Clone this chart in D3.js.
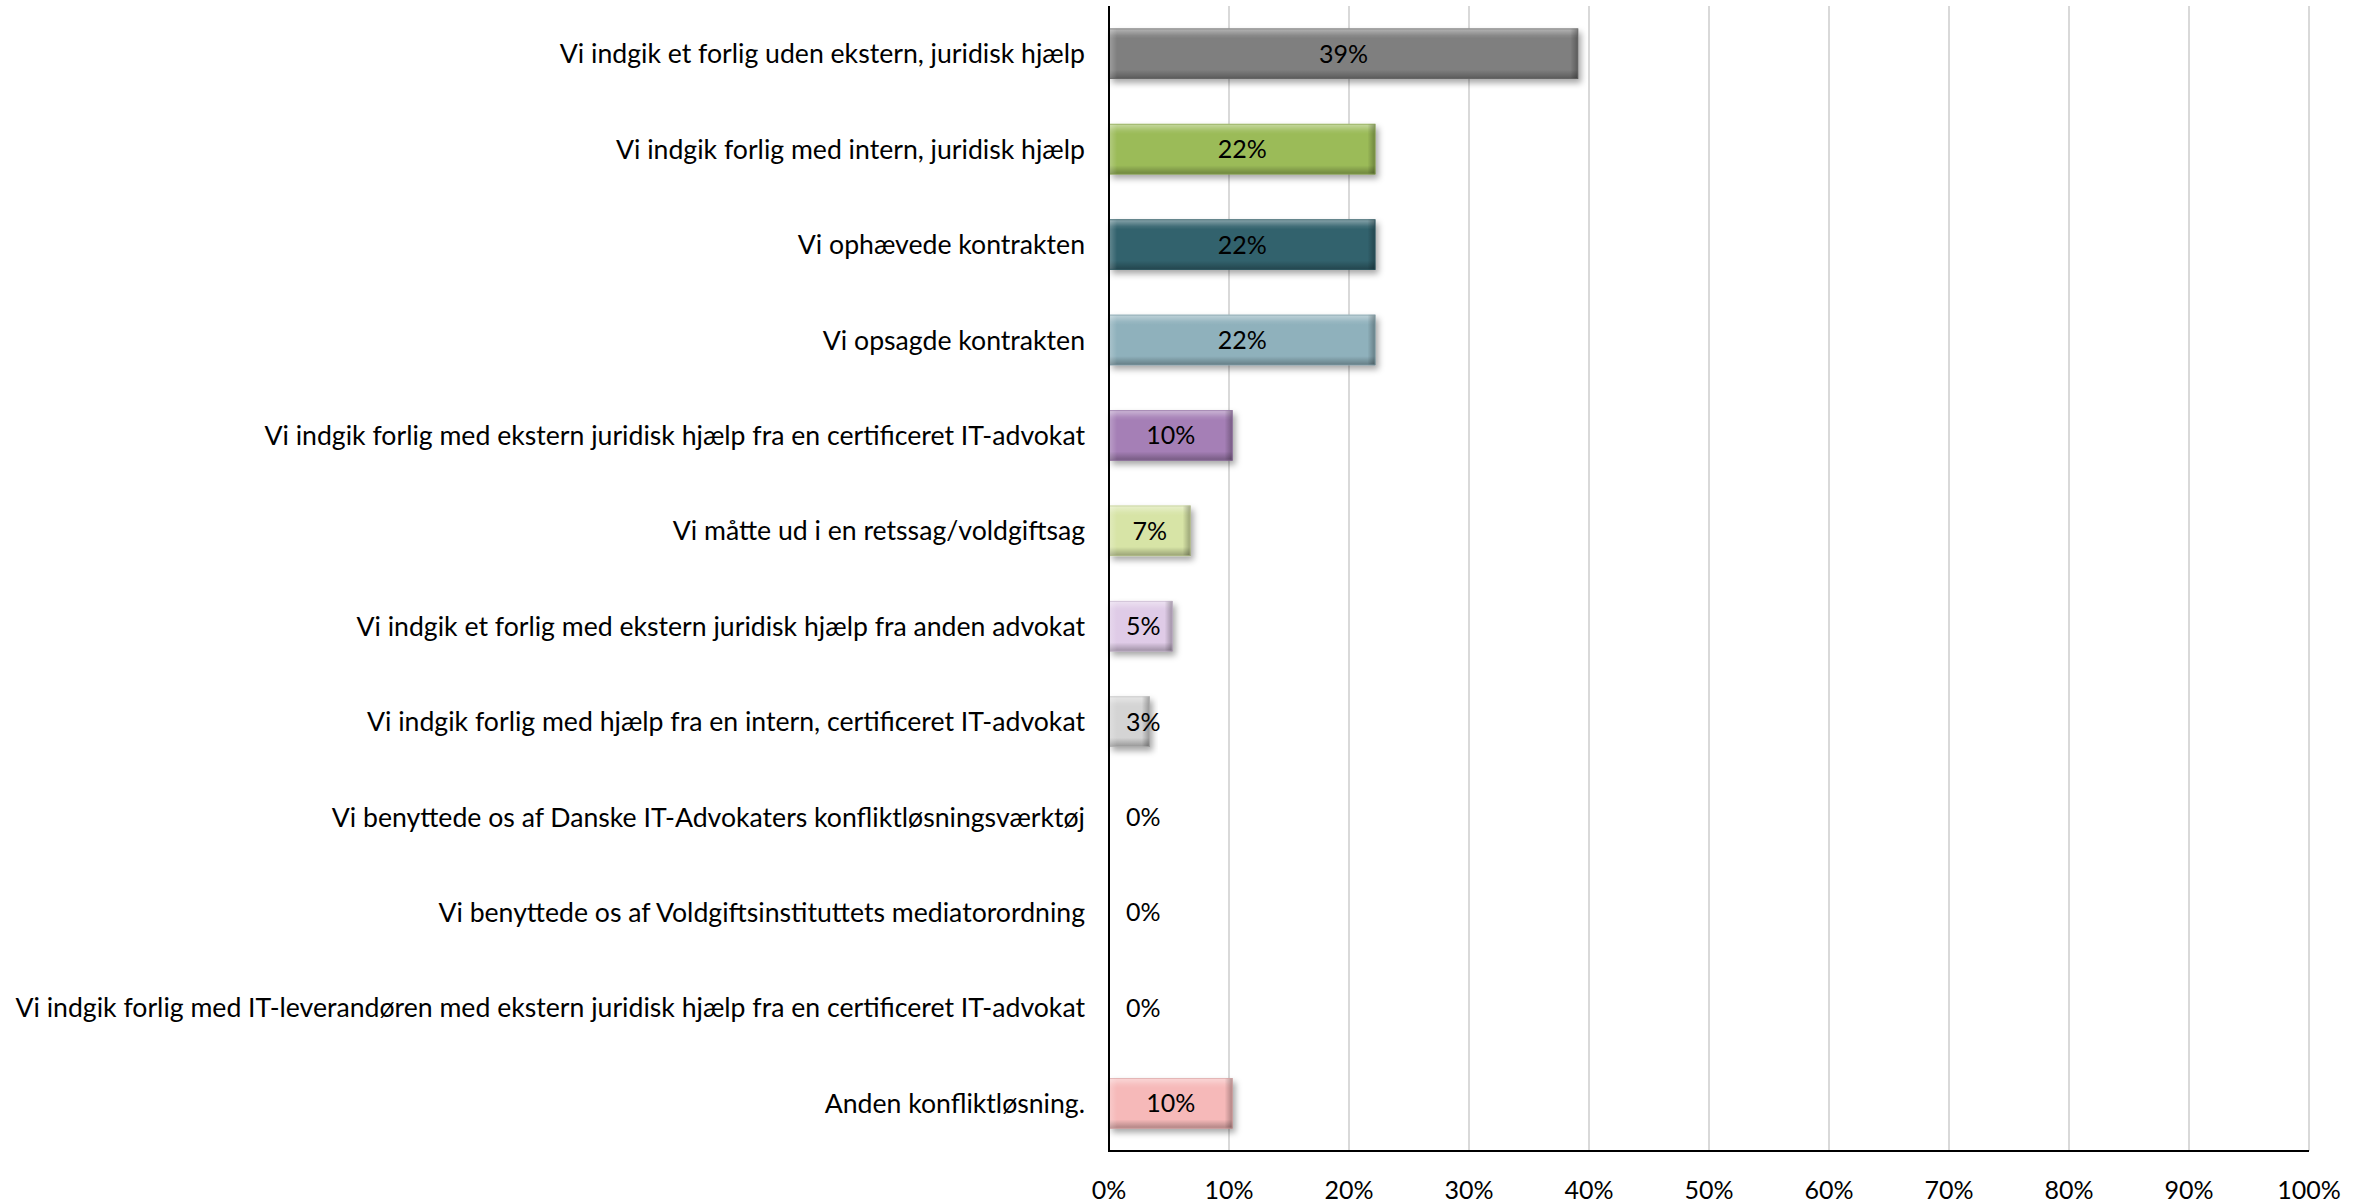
<!DOCTYPE html>
<html>
<head>
<meta charset="utf-8">
<script src="https://cdn.jsdelivr.net/npm/d3@7"></script>
<style>
  body { margin: 0; background: #fff; }
  text { font-family: Lato, "Open Sans", sans-serif; fill: #000; }
</style>
</head>
<body>
<div id="chart"></div>
<script>
// data
var categories = [
  "Vi indgik et forlig uden ekstern, juridisk hjælp",
  "Vi indgik forlig med intern, juridisk hjælp",
  "Vi ophævede kontrakten",
  "Vi opsagde kontrakten",
  "Vi indgik forlig med ekstern juridisk hjælp fra en certificeret IT-advokat",
  "Vi måtte ud i en retssag/voldgiftsag",
  "Vi indgik et forlig med ekstern juridisk hjælp fra anden advokat",
  "Vi indgik forlig med hjælp fra en intern, certificeret IT-advokat",
  "Vi benyttede os af Danske IT-Advokaters konfliktløsningsværktøj",
  "Vi benyttede os af Voldgiftsinstituttets mediatorordning",
  "Vi indgik forlig med IT-leverandøren med ekstern juridisk hjælp fra en certificeret IT-advokat",
  "Anden konfliktløsning."
];
var values = [0.391, 0.222, 0.222, 0.222, 0.103, 0.068, 0.053, 0.034, 0, 0, 0, 0.103];
var barColors = ["#7f7f7f", "#9bbb59", "#31626d", "#8fb1bc", "#a57fb6", "#d7e4a6",
                 "#dfcbe7", "#d4d4d4", "#d4d4d4", "#d4d4d4", "#d4d4d4", "#f6b9b9"];
var ticks = [0, 0.1, 0.2, 0.3, 0.4, 0.5, 0.6, 0.7, 0.8, 0.9, 1.0];

function main() {
  var W = 2369, H = 1204;
  var margin = {top: 6, right: 60, bottom: 53, left: 1109};
  var width = W - margin.left - margin.right,
      height = H - margin.top - margin.bottom;

  var svg = d3.select("#chart").append("svg")
      .attr("width", W).attr("height", H);

  var defs = svg.append("defs");
  var f = defs.append("filter").attr("id", "shadow")
      .attr("x", "-10%").attr("y", "-30%").attr("width", "130%").attr("height", "180%");
  f.append("feDropShadow").attr("dx", 3).attr("dy", 4).attr("stdDeviation", 3)
      .attr("flood-color", "#000").attr("flood-opacity", 0.35);

  // bevel overlays
  var gv = defs.append("linearGradient").attr("id", "bevelV")
      .attr("x1", 0).attr("y1", 0).attr("x2", 0).attr("y2", 1);
  gv.append("stop").attr("offset", "0%").attr("stop-color", "#fff").attr("stop-opacity", 0.45);
  gv.append("stop").attr("offset", "14%").attr("stop-color", "#fff").attr("stop-opacity", 0.08);
  gv.append("stop").attr("offset", "20%").attr("stop-color", "#fff").attr("stop-opacity", 0);
  gv.append("stop").attr("offset", "82%").attr("stop-color", "#000").attr("stop-opacity", 0);
  gv.append("stop").attr("offset", "88%").attr("stop-color", "#000").attr("stop-opacity", 0.1);
  gv.append("stop").attr("offset", "100%").attr("stop-color", "#000").attr("stop-opacity", 0.3);

  var gr = defs.append("linearGradient").attr("id", "bevelR")
      .attr("x1", 0).attr("y1", 0).attr("x2", 1).attr("y2", 0);
  gr.append("stop").attr("offset", "0%").attr("stop-color", "#000").attr("stop-opacity", 0);
  gr.append("stop").attr("offset", "100%").attr("stop-color", "#000").attr("stop-opacity", 0.3);

  var gl = defs.append("linearGradient").attr("id", "bevelL")
      .attr("x1", 0).attr("y1", 0).attr("x2", 1).attr("y2", 0);
  gl.append("stop").attr("offset", "0%").attr("stop-color", "#fff").attr("stop-opacity", 0.25);
  gl.append("stop").attr("offset", "100%").attr("stop-color", "#fff").attr("stop-opacity", 0);

  var g = svg.append("g")
      .attr("transform", "translate(" + margin.left + "," + margin.top + ")");

  var x = d3.scaleLinear().domain([0, 1]).range([0, width]);
  var y = d3.scaleBand().domain(categories).range([0, height])
      .paddingInner(0.47).paddingOuter(0.235);

  // gridlines
  g.selectAll(".grid")
    .data(ticks.slice(1))
    .enter().append("line")
      .attr("x1", function(d){ return x(d); })
      .attr("x2", function(d){ return x(d); })
      .attr("y1", 0).attr("y2", height)
      .attr("stroke", "#d9d9d9").attr("stroke-width", 2);

  // bars
  var bars = g.selectAll(".bar")
    .data(values)
    .enter().append("g")
      .attr("class", "bar")
      .attr("transform", function(d, i){ return "translate(0," + y(categories[i]) + ")"; });

  var bh = y.bandwidth();
  bars.each(function(d, k) {
    if (d <= 0) return;
    var sel = d3.select(this);
    var w = x(d);
    sel.append("rect")
      .attr("width", w).attr("height", bh)
      .attr("fill", barColors[k])
      .attr("filter", "url(#shadow)");
    sel.append("rect")
      .attr("width", w).attr("height", bh)
      .attr("fill", "url(#bevelV)");
    sel.append("rect")
      .attr("x", Math.max(0, w - 8)).attr("width", Math.min(8, w)).attr("height", bh)
      .attr("fill", "url(#bevelR)");
    sel.append("rect")
      .attr("width", Math.min(8, w)).attr("height", bh)
      .attr("fill", "url(#bevelL)");
    sel.append("rect")
      .attr("x", 0.5).attr("y", 0.5)
      .attr("width", Math.max(0, w - 1)).attr("height", bh - 1)
      .attr("fill", "none").attr("stroke", d3.color(barColors[k]).darker(0.4))
      .attr("stroke-opacity", 0.6).attr("stroke-width", 1);
  });

  // value labels
  bars.append("text")
      .attr("y", bh / 2)
      .attr("dy", "0.36em")
      .attr("font-size", "25px")
      .text(function(d){ return Math.round(d * 100) + "%"; })
      .attr("x", function(d) {
        var tw = this.getComputedTextLength();
        return Math.max(x(d) / 2 - tw / 2, 17);
      });

  // axes lines
  g.append("line")
      .attr("x1", 0).attr("x2", 0).attr("y1", 0).attr("y2", height + 1)
      .attr("stroke", "#000").attr("stroke-width", 2);
  g.append("line")
      .attr("x1", -1).attr("x2", x(1)).attr("y1", height).attr("y2", height)
      .attr("stroke", "#000").attr("stroke-width", 2);

  // category labels
  var cats = g.selectAll(".cat")
    .data(categories)
    .enter().append("text")
      .attr("x", -24)
      .attr("y", function(d){ return y(d) + bh / 2; })
      .attr("dy", "0.36em")
      .attr("text-anchor", "end")
      .attr("font-size", "23px")
      .text(function(d){ return d; });

  // size the labels so the longest one spans the same width as in the picture
  var longest = d3.max(cats.nodes(), function(n){ return n.getComputedTextLength(); });
  cats.attr("font-size", (23 * 1070 / longest).toFixed(2) + "px");

  // tick labels
  g.selectAll(".tick")
    .data(ticks)
    .enter().append("text")
      .attr("x", function(d){ return x(d); })
      .attr("y", height + 39)
      .attr("dy", "0.36em")
      .attr("text-anchor", "middle")
      .attr("font-size", "25px")
      .text(function(d){ return Math.round(d * 100) + "%"; });
}
main();
</script>
</body>
</html>
